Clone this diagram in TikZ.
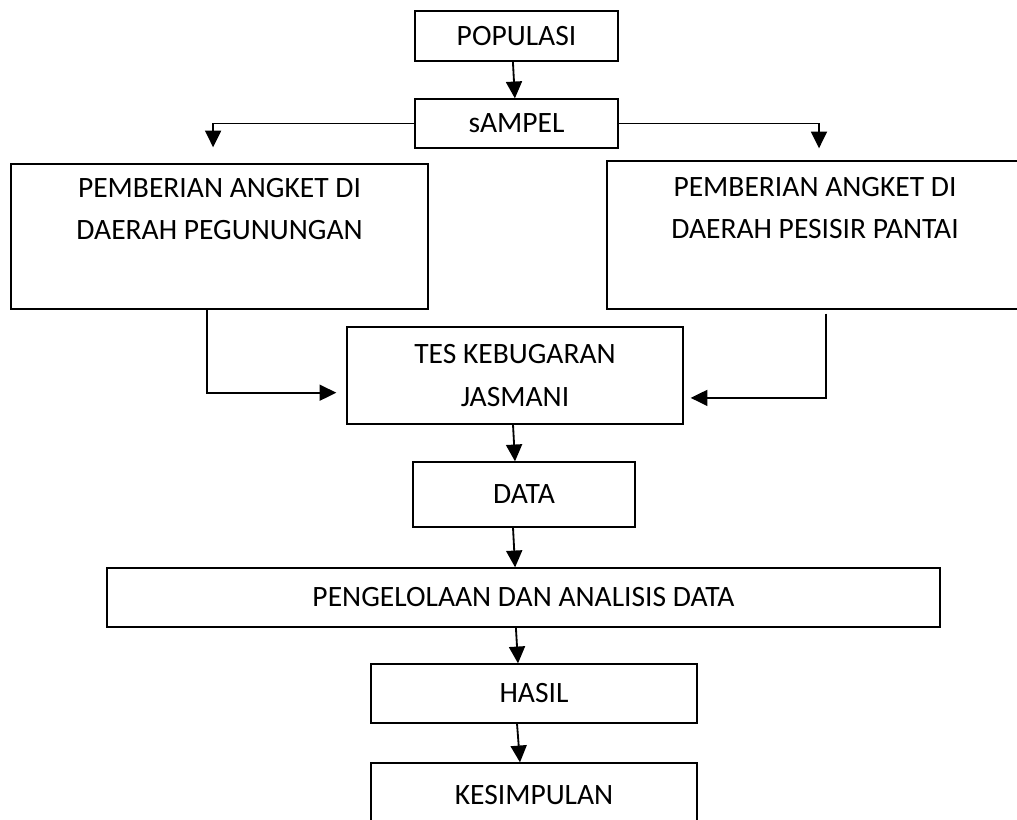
\documentclass[tikz,border=0pt]{standalone}
\usepackage{fontspec}
\setmainfont{Carlito}
\usetikzlibrary{arrows.meta,positioning}

\begin{document}
\begin{tikzpicture}[x=0.025cm, y=-0.025cm,
    box/.style={draw, line width=0.9pt, align=center, inner sep=0pt,
        font=\fontsize{21}{30}\selectfont},
    arr/.style={line width=1.3pt, -{Triangle[length=0.42cm, width=0.4cm]}}]
    % Page frame
    \clip (0,0) rectangle (1017,820);

    % Boxes
    \node[box, minimum width=5.075cm, minimum height=1.25cm] (pop) at (516.5,36) {POPULASI};
    \node[box, minimum width=5.075cm, minimum height=1.225cm] (samp) at (516.5,123.5) {sAMPEL};
    \node[box, minimum width=10.425cm, minimum height=3.625cm] (lbox) at (219.5,236.5)
        {PEMBERIAN ANGKET DI\\ DAERAH PEGUNUNGAN\\ \strut};
    \node[box, minimum width=10.4cm, minimum height=3.7cm] (rbox) at (815,235)
        {PEMBERIAN ANGKET DI\\ DAERAH PESISIR PANTAI\\ \strut};
    \node[box, minimum width=8.4cm, minimum height=2.425cm] (tes) at (515,375.5)
        {TES KEBUGARAN\\ JASMANI};
    \node[box, minimum width=5.55cm, minimum height=1.625cm] (data) at (524,494.5) {DATA};
    \node[box, minimum width=20.825cm, minimum height=1.475cm] (proc) at (523.5,597.5)
        {PENGELOLAAN DAN ANALISIS DATA};
    \node[box, minimum width=8.15cm, minimum height=1.475cm] (hasil) at (534,693.5) {HASIL};
    \node[box, minimum width=8.15cm, minimum height=1.6cm] (kes) at (534,795) {KESIMPULAN};

    % Connectors
    \draw[arr] ([xshift=-0.09cm]pop.south) -- ([xshift=-0.04cm]samp.north);
    \draw[arr, shorten >=0.4cm] (samp.west) -| ([xshift=-0.16cm]lbox.north);
    \draw[arr, shorten >=0.3cm] (samp.east) -| ([xshift=0.1cm]rbox.north);
    \draw[arr, shorten >=0.25cm] ([xshift=-0.31cm]lbox.south) |- ([yshift=-0.43cm]tes.west);
    \draw[arr, shorten >=0.175cm] ([xshift=0.275cm, yshift=-0.1cm]rbox.south) |- ([yshift=-0.56cm]tes.east);
    \draw[arr] ([xshift=-0.05cm]tes.south) -- ([xshift=-0.225cm]data.north);
    \draw[arr] ([xshift=-0.275cm]data.south) -- ([xshift=-0.21cm]proc.north);
    \draw[arr] ([xshift=-0.19cm]proc.south) -- ([xshift=-0.4cm]hasil.north);
    \draw[arr] ([xshift=-0.425cm]hasil.south) -- ([xshift=-0.35cm]kes.north);
\end{tikzpicture}
\end{document}
